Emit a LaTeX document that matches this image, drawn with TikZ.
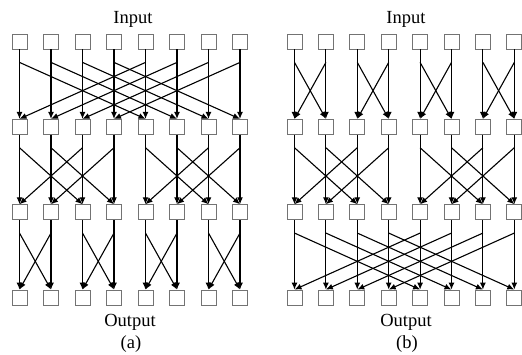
\documentclass[tikz,border=0pt]{standalone}
\usepackage{fontspec}
\setmainfont{Liberation Serif}
\usetikzlibrary{arrows.meta,calc}
\begin{document}
\begin{tikzpicture}[x=1pt,y=-1pt,
  cell/.style={draw=black!55, line width=0.8pt, minimum size=15pt, inner sep=0pt, fill=white},
  link/.style={line width=1.1pt, -{Latex[length=7pt,width=6pt]}},
  lbl/.style={font=\fontsize{18.5}{21}\selectfont, anchor=base, inner sep=0pt}]
\useasboundingbox (0,0) rectangle (522,354);
% cells
\foreach \p/\xo/\dx in {a/19.5/31.5, b/294.5/31.4}{
  \foreach \r in {0,...,3}{
    \foreach \c in {0,...,7}{
      \node[cell] (\p\r\c) at ({\xo+\dx*\c},{41.5+85.33*\r}) {};
    }
  }
}
% connectors
\foreach \p/\da/\db/\dc in {a/4/2/1, b/1/2/4}{
  \foreach \r/\d in {0/\da, 1/\db, 2/\dc}{
    \pgfmathtruncatemacro{\rn}{\r+1}
    \foreach \c in {0,...,7}{
      \pgfmathtruncatemacro{\j}{ifthenelse(mod(floor(\c/\d),2)==0,\c+\d,\c-\d)}
      \coordinate (\p d\r\c) at ($(\p\r\c.south)+(0,13)$);
      \draw[link] (\p\r\c.south) -- (\p\rn\c.north);
      \draw[link] (\p d\r\c) -- (\p\rn\j.north);
    }
  }
}
% labels
\node[lbl] (ina) at (133,23) {Input};
\node[lbl] (outa) at (130,326) {Output};
\node[lbl] (capa) at (131,348) {(a)};
\node[lbl] (inb) at (406,23) {Input};
\node[lbl] (outb) at (406,326) {Output};
\node[lbl] (capb) at (407,348) {(b)};
\end{tikzpicture}
\end{document}
